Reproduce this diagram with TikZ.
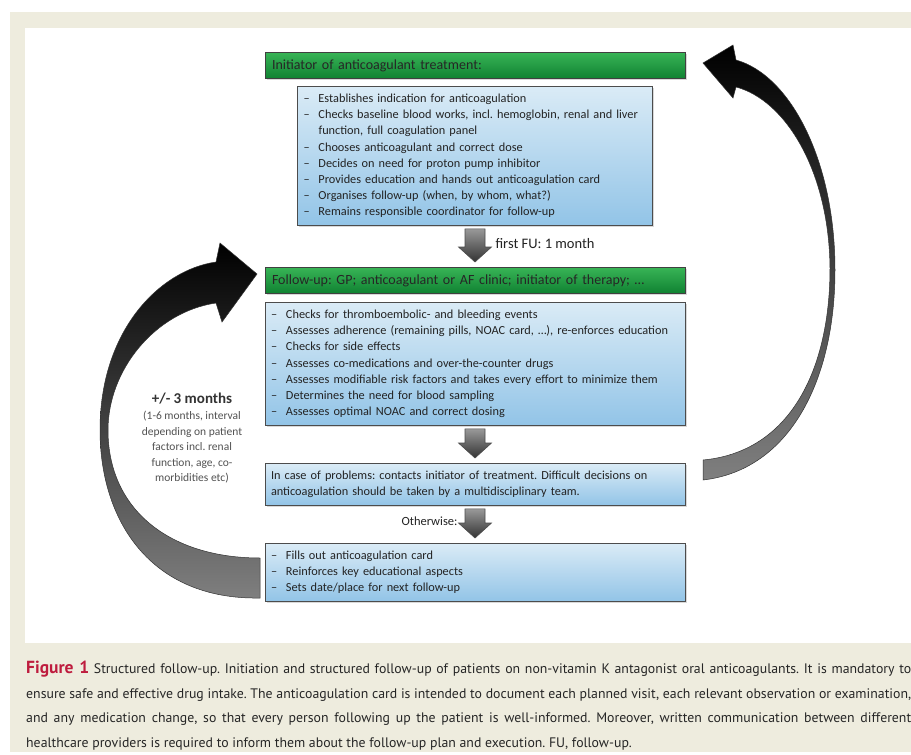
\documentclass[tikz,border=0pt]{standalone}
\usepackage{fontspec}
\setmainfont{Carlito}
\newfontfamily\capfont{PT Sans}
\usetikzlibrary{calc,shadows}

\definecolor{beige}{RGB}{238,236,222}
\definecolor{figred}{RGB}{190,28,62}
\definecolor{hdtop}{RGB}{56,180,86}
\definecolor{hdbot}{RGB}{16,130,50}
\definecolor{bxtop}{RGB}{218,235,246}
\definecolor{bxbot}{RGB}{146,196,231}
\definecolor{txt}{RGB}{35,35,35}

% dash of a list line
\newcommand{\itm}{\makebox[15pt][l]{–}}
% grey block arrow from one box down to the next
\newcommand{\flowarrow}[2]{%
  \path[flowarr] ($(#1.south)+(-10,3)$) -- ($(#1.south)+(10,3)$)
    -- ($(#2.north)+(10,-20)$) -- ($(#2.north)+(16.5,-20)$) -- ($(#2.north)+(0,-5)$)
    -- ($(#2.north)+(-16.5,-20)$) -- ($(#2.north)+(-10,-20)$) -- cycle;}

\frenchspacing
\begin{document}
\begin{tikzpicture}[x=1pt,y=-1pt,
  header/.style={draw=black!75, line width=0.8pt, top color=hdtop, bottom color=hdbot,
    minimum width=420pt, minimum height=26pt, text width=406pt, inner xsep=7pt, align=left,
    anchor=north, font=\fontsize{14}{16}\selectfont, text=black!85,
    drop shadow={opacity=0.3, shadow xshift=1.5pt, shadow yshift=-1.5pt}},
  listbox/.style={draw=black!70, line width=0.8pt, top color=bxtop, bottom color=bxbot,
    inner xsep=6pt, align=left, anchor=north, font=\fontsize{12.3}{16.2}\selectfont, text=txt,
    drop shadow={opacity=0.3, shadow xshift=1.5pt, shadow yshift=-1.5pt}},
  flowarr/.style={draw=black!70, line width=0.6pt, top color=black!40, bottom color=black!80},
  looparr/.style={draw=black!80, line width=0.5pt, top color=black, bottom color=black!50}]
\useasboundingbox (0,0) rectangle (911,755);
\fill[beige] (10,12) rectangle (911,752);
\fill[white] (25,28) rectangle (911,643);

% boxes
\node[header] (init) at (475,52) {Initiator of anticoagulant treatment:};
\node[listbox, text width=343pt, minimum width=355pt, minimum height=139pt] (initlist) at (475,86) {%
  \itm Establishes indication for anticoagulation\\
  \itm Checks baseline blood works, incl. hemoglobin, renal and liver\\
  \hspace*{15pt}function, full coagulation panel\\
  \itm Chooses anticoagulant and correct dose\\
  \itm Decides on need for proton pump inhibitor\\
  \itm Provides education and hands out anticoagulation card\\
  \itm Organises follow-up (when, by whom, what?)\\
  \itm Remains responsible coordinator for follow-up};
\node[header] (fu) at (475,267) {Follow-up: GP; anticoagulant or AF clinic; initiator of therapy; …};
\node[listbox, text width=408pt, minimum width=420pt, minimum height=123pt] (fulist) at (475,302) {%
  \itm Checks for thromboembolic- and bleeding events\\
  \itm Assesses adherence (remaining pills, NOAC card, …), re-enforces education\\
  \itm Checks for side effects\\
  \itm Assesses co-medications and over-the-counter drugs\\
  \itm Assesses modifiable risk factors and takes every effort to minimize them\\
  \itm Determines the need for blood sampling\\
  \itm Assesses optimal NOAC and correct dosing};
\node[listbox, text width=408pt, minimum width=420pt, minimum height=42pt] (problems) at (475,463) {%
  In case of problems: contacts initiator of treatment. Difficult decisions on\\
  anticoagulation should be taken by a multidisciplinary team.};
\node[listbox, text width=408pt, minimum width=420pt, minimum height=58pt] (routine) at (475,543) {%
  \itm Fills out anticoagulation card\\
  \itm Reinforces key educational aspects\\
  \itm Sets date/place for next follow-up};

% arrows down
\flowarrow{initlist}{fu}
\flowarrow{fulist}{problems}
\flowarrow{problems}{routine}
\node[anchor=west, font=\fontsize{14.5}{16}\selectfont, text=txt] (firstfu) at (492,244) {first FU: 1 month};
\node[anchor=east, font=\fontsize{12.5}{14}\selectfont, text=txt] (otherwise) at (461,521) {Otherwise:};

% loop back to follow-up
\path[looparr] (260,598) .. controls (150,600) and (100,520) .. (100,430)
  .. controls (100,330) and (160,270) .. (216,262) -- (220,243) -- (257,274) -- (222,322) -- (216,303)
  .. controls (155,312) and (108,370) .. (108,430) .. controls (108,510) and (170,558) .. (260,558) -- cycle;
\node[align=center, text=black!68, font=\fontsize{11.5}{15.5}\selectfont] (interval) at (192,438)
  {{\fontsize{15}{16}\selectfont\bfseries\color{black!80}+/- 3 months}\\[1pt]
   (1-6 months, interval\\ depending on patient\\ factors incl. renal\\ function, age, co-\\ morbidities etc)};

% loop back to initiator
\path[looparr] (703,480) .. controls (790,470) and (835,380) .. (835,270)
  .. controls (835,160) and (790,75) .. (736,60) -- (733,45) -- (703,63) -- (733,98) -- (736,87)
  .. controls (785,100) and (829,170) .. (830,268) .. controls (830,370) and (790,452) .. (703,460) -- cycle;

% caption
\node[anchor=north west, inner sep=0pt, align=left, text=black!85, font=\capfont\fontsize{13.8}{24.5}\selectfont] (caption) at (26,661) {%
  \makebox[885pt][s]{{\fontsize{17.5}{20}\selectfont\bfseries\color{figred}Figure 1} Structured follow-up. Initiation and structured follow-up of patients on non-vitamin K antagonist oral anticoagulants. It is mandatory to}\\
  \makebox[885pt][s]{ensure safe and effective drug intake. The anticoagulation card is intended to document each planned visit, each relevant observation or examination,}\\
  \makebox[885pt][s]{and any medication change, so that every person following up the patient is well-informed. Moreover, written communication between different}\\
  healthcare providers is required to inform them about the follow-up plan and execution. FU, follow-up.};
\end{tikzpicture}
\end{document}
